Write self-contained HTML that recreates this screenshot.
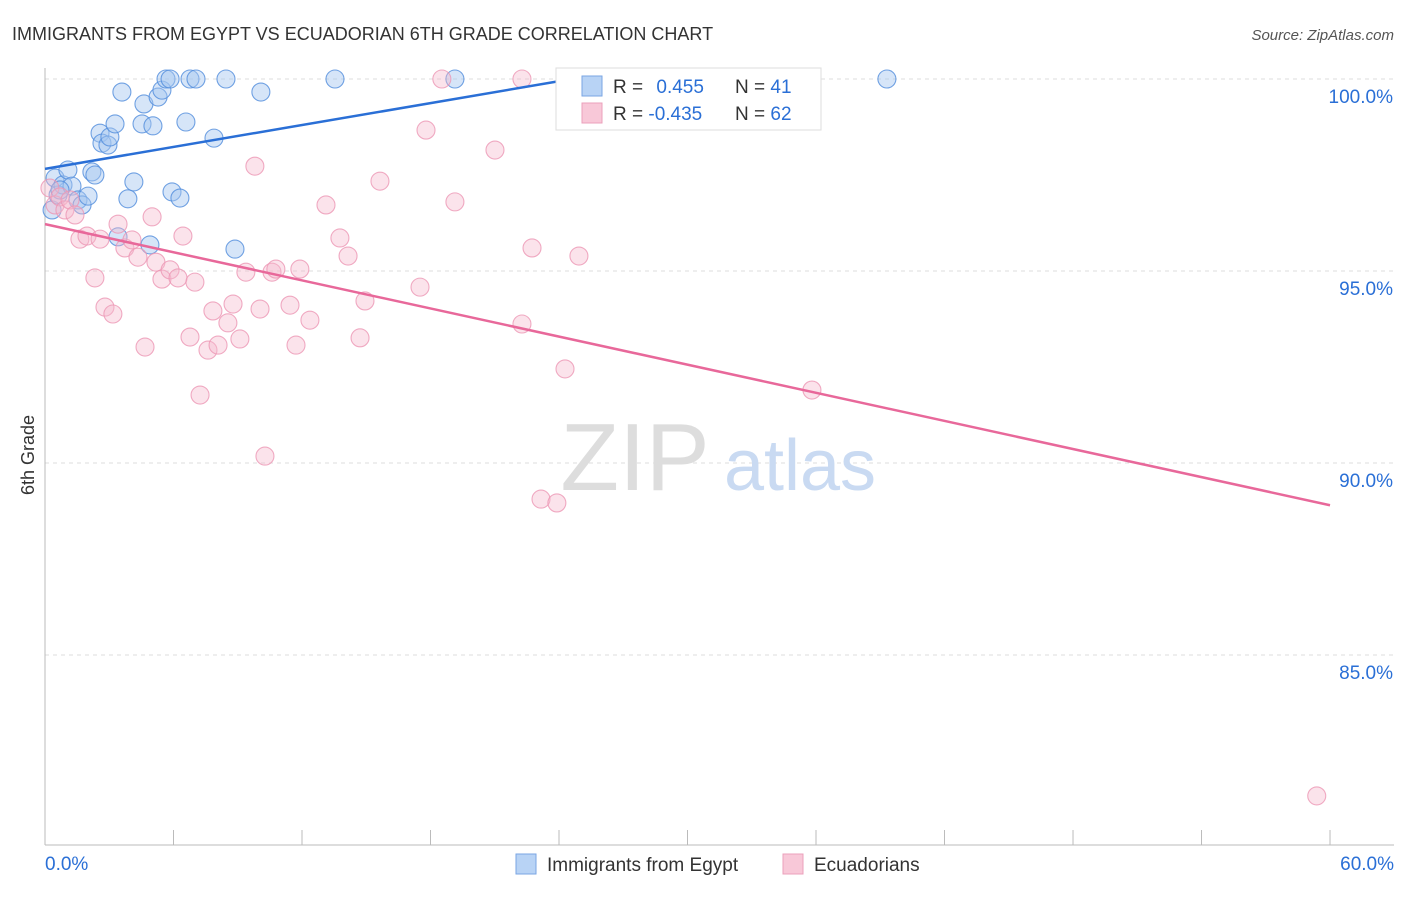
<!DOCTYPE html>
<html><head><meta charset="utf-8">
<style>
body{margin:0;background:#fff;font-family:"Liberation Sans",sans-serif;}
svg text{font-family:"Liberation Sans",sans-serif;}
</style></head>
<body>
<svg id="chart" width="1406" height="892" viewBox="0 0 1406 892" xmlns="http://www.w3.org/2000/svg">
<text x="12" y="40" font-size="18" fill="#333">IMMIGRANTS FROM EGYPT VS ECUADORIAN 6TH GRADE CORRELATION CHART</text>
<text x="1394" y="40" font-size="15" fill="#555" text-anchor="end" font-style="italic">Source: ZipAtlas.com</text>
<g id="grid"></g>
<g>
<text x="635" y="490" font-size="96" fill="#ddd" font-family="Liberation Serif" text-anchor="middle">ZIP</text>
<text x="800" y="490" font-size="72" fill="#c9daf2" text-anchor="middle">atlas</text>
</g>
<g id="axes"></g>
<g id="pts"></g>
<g id="trends"></g>
<text transform="translate(34,455) rotate(-90)" font-size="18" fill="#333" text-anchor="middle">6th Grade</text>
<g>
<rect x="556" y="68" width="265" height="62" fill="#fff" stroke="#ddd"/>
<rect x="582" y="76" width="20" height="20" fill="#b8d3f5" stroke="#7aa6e3"/>
<rect x="582" y="103" width="20" height="20" fill="#f8c8d8" stroke="#eba0bb"/>
<text x="613" y="93" font-size="19" fill="#333">R = <tspan fill="#2a6fd6" dx="8">0.455</tspan></text>
<text x="735" y="93" font-size="19" fill="#333">N = <tspan fill="#2a6fd6">41</tspan></text>
<text x="613" y="120" font-size="19" fill="#333">R = <tspan fill="#2a6fd6">-0.435</tspan></text>
<text x="735" y="120" font-size="19" fill="#333">N = <tspan fill="#2a6fd6">62</tspan></text>
</g>
<g>
<rect x="516" y="854" width="20" height="20" fill="#b8d3f5" stroke="#7aa6e3"/>
<text x="547" y="871" font-size="19" fill="#333">Immigrants from Egypt</text>
<rect x="783" y="854" width="20" height="20" fill="#f8c8d8" stroke="#eba0bb"/>
<text x="814" y="871" font-size="19" fill="#333">Ecuadorians</text>
</g>
</svg>
<script>
const blueX=[0.33,0.47,0.61,0.84,1.07,1.26,1.54,1.73,2.01,2.19,2.33,2.57,2.66,2.94,3.03,3.27,3.59,3.87,4.15,4.53,4.62,4.90,5.04,5.28,5.46,5.65,5.84,5.93,6.30,6.58,6.77,7.05,7.89,8.45,8.87,10.08,13.54,19.14,39.31,3.41,0.70];
const blueY=[96.59,97.42,96.98,97.24,97.63,97.21,96.85,96.72,96.95,97.58,97.50,98.59,98.33,98.28,98.49,98.83,99.66,96.88,97.32,98.83,99.35,95.68,98.78,99.53,99.71,100,100,97.06,96.90,98.88,100,100,98.46,100,95.57,99.66,100,100,100,95.89,97.11];
const pinkX=[0.23,0.47,0.70,0.93,1.17,1.40,1.63,1.96,2.33,2.57,2.80,3.17,3.41,3.73,4.06,4.34,4.67,5.00,5.18,5.46,5.84,6.21,6.44,6.77,7.00,7.24,7.61,7.84,8.08,8.54,8.78,9.10,9.38,9.80,10.04,10.27,10.60,10.78,11.44,11.72,11.90,12.37,13.12,13.77,14.15,14.71,14.94,15.64,17.51,17.79,18.53,19.14,21.01,22.27,22.27,22.74,23.16,23.90,24.28,24.93,35.81,59.38];
const pinkY=[97.16,96.72,96.93,96.59,96.85,96.46,95.83,95.91,94.82,95.83,94.06,93.88,96.22,95.60,95.81,95.36,93.02,96.41,95.23,94.79,95.03,94.82,95.91,93.28,94.71,91.77,92.94,93.96,93.07,93.65,94.14,93.23,94.97,97.73,94.01,90.18,94.97,95.05,94.11,93.07,95.05,93.72,96.72,95.86,95.39,93.26,94.22,97.34,94.58,98.67,100,96.80,98.15,100,93.62,95.60,89.06,88.96,92.45,95.39,91.90,81.33];
const yTicks=[100,95,90,85];
const yTickLabels=["100.0%","95.0%","90.0%","85.0%"];
const xTickVals=[0,6,12,18,24,30,36,42,48,54,60];
const xEndLabels=["0.0%","60.0%"];
const blueTrend=[[0,97.66],[24.6,100]];
const pinkTrend=[[0,96.22],[60,88.9]];
const ns="http://www.w3.org/2000/svg";
const sx=v=>45+v*21.417;
const sy=v=>79+(100-v)*38.4;
function mk(tag,attrs,parent){const e=document.createElementNS(ns,tag);for(const k in attrs)e.setAttribute(k,attrs[k]);parent.appendChild(e);return e;}
const grid=document.getElementById('grid'),axes=document.getElementById('axes'),pts=document.getElementById('pts'),tr=document.getElementById('trends');
yTicks.forEach((t,i)=>{
 const l=mk('line',{x1:45,x2:1394,y1:sy(t),y2:sy(t),stroke:'#ddd','stroke-dasharray':'4,4'},grid);
 
 
 const tx=mk('text',{x:1393,y:sy(t)+24,'font-size':19,fill:'#2a6fd6','text-anchor':'end'},axes);
 tx.textContent=yTickLabels[i];
 
 
});
const ya=mk('line',{x1:45,x2:45,y1:68,y2:845,stroke:'#bbb'},axes);


const xa=mk('line',{x1:45,x2:1394,y1:845,y2:845,stroke:'#bbb'},axes);


xTickVals.forEach(v=>{
 const t=mk('line',{x1:sx(v),x2:sx(v),y1:830,y2:845,stroke:'#bbb'},axes);
 
 
});
[[0,'start',45],[1,'end',1394]].forEach(([i,a,x])=>{
 const t=mk('text',{x:x,y:870,'font-size':19,fill:'#2a6fd6','text-anchor':a},axes);
 t.textContent=xEndLabels[i];
 
 
});
blueX.forEach((x,i)=>{
 const c=mk('circle',{cx:sx(x),cy:sy(blueY[i]),r:9,fill:'rgba(165,198,240,0.45)',stroke:'rgba(80,140,220,0.8)','stroke-width':1.1},pts);
 
 
});
pinkX.forEach((x,i)=>{
 const c=mk('circle',{cx:sx(x),cy:sy(pinkY[i]),r:9,fill:'rgba(245,185,205,0.4)',stroke:'rgba(236,150,180,0.8)','stroke-width':1.1},pts);
 
 
});
const bl=mk('line',{x1:sx(blueTrend[0][0]),y1:sy(blueTrend[0][1]),x2:sx(blueTrend[1][0]),y2:sy(blueTrend[1][1]),stroke:'#2a6fd6','stroke-width':2.5},tr);


const pl=mk('line',{x1:sx(pinkTrend[0][0]),y1:sy(pinkTrend[0][1]),x2:sx(pinkTrend[1][0]),y2:sy(pinkTrend[1][1]),stroke:'#e8689a','stroke-width':2.5},tr);


</script>
</body></html>
